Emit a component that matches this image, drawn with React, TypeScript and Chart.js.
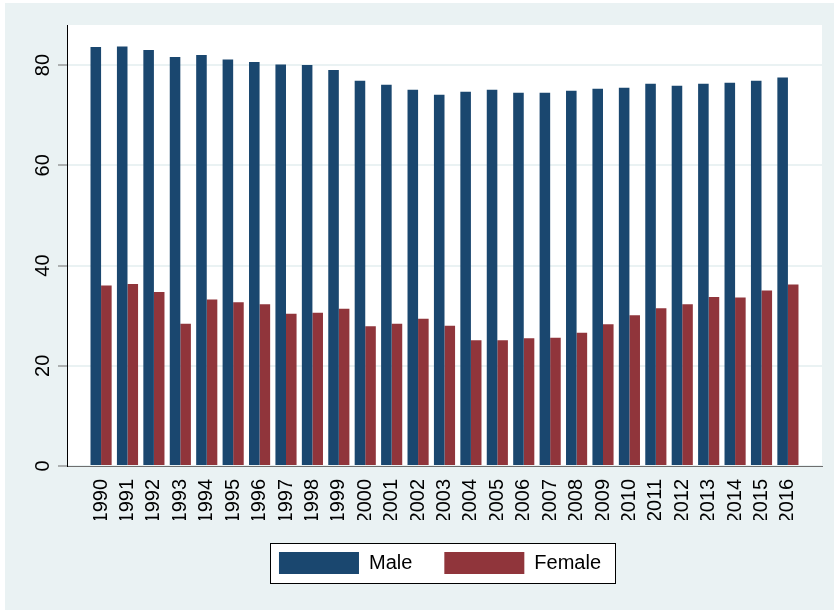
import React, { useEffect, useRef } from 'react';
import { Chart, registerables } from 'chart.js';

Chart.register(...registerables);

const years = ['1990', '1991', '1992', '1993', '1994', '1995', '1996', '1997', '1998', '1999', '2000', '2001', '2002', '2003', '2004', '2005', '2006', '2007', '2008', '2009', '2010', '2011', '2012', '2013', '2014', '2015', '2016'];
const male = [83.6, 83.7, 83.0, 81.6, 82.0, 81.1, 80.6, 80.1, 80.0, 79.0, 76.9, 76.1, 75.1, 74.1, 74.7, 75.1, 74.5, 74.5, 74.9, 75.3, 75.5, 76.3, 75.9, 76.3, 76.5, 76.9, 77.5];
const female = [36.0, 36.3, 34.7, 28.4, 33.2, 32.7, 32.3, 30.4, 30.6, 31.4, 27.9, 28.4, 29.4, 28.0, 25.1, 25.1, 25.5, 25.6, 26.6, 28.3, 30.1, 31.5, 32.3, 33.7, 33.6, 35.0, 36.2];
const yTicks = [0, 20, 40, 60, 80];
const seriesNames = ['Male', 'Female'];

const FONT = '"Liberation Sans", Arial, sans-serif';
const BG = '#EAF2F3';

const stataPlugin = {
  id: 'stataLook',
  beforeDraw(chart: any) {
    const { ctx, chartArea: a, width, height } = chart;
    ctx.save();
    ctx.fillStyle = '#ffffff';
    ctx.fillRect(0, 0, width, height);
    ctx.fillStyle = BG;
    ctx.fillRect(5, 3, width - 5, height - 3);
    ctx.fillStyle = '#ffffff';
    ctx.fillRect(a.left, a.top, a.right - a.left, a.bottom - a.top);
    const hb = chart.legend && chart.legend.legendHitBoxes;
    if (hb && hb.length) {
      const first = hb[0];
      const last = hb[hb.length - 1];
      const x0 = first.left - 9;
      const x1 = last.left + last.width + 14;
      const cy = first.top + first.height / 2;
      ctx.fillStyle = '#ffffff';
      ctx.fillRect(x0, cy - 20, x1 - x0, 40);
      ctx.strokeStyle = '#000000';
      ctx.lineWidth = 1;
      ctx.strokeRect(Math.round(x0) + 0.5, Math.round(cy - 20) + 0.5, Math.round(x1 - x0), 40);
    }
    ctx.restore();
  },
  afterDraw(chart: any) {
    const { ctx } = chart;
    const y = chart.scales.y;
    ctx.save();
    ctx.font = '20px ' + FONT;
    ctx.fillStyle = '#000000';
    ctx.textAlign = 'center';
    ctx.textBaseline = 'middle';
    y.ticks.forEach((t: any) => {
      const py = y.getPixelForValue(t.value);
      ctx.save();
      ctx.translate(43, py);
      ctx.rotate(-Math.PI / 2);
      ctx.fillText(String(t.value), 0, 0);
      ctx.restore();
    });
    ctx.restore();
  },
};

export default function App() {
  const ref = useRef<HTMLCanvasElement | null>(null);

  useEffect(() => {
    if (!ref.current) return;
    Chart.defaults.font.family = FONT;
    const chart = new Chart(ref.current, {
      type: 'bar',
      data: {
        datasets: [
          {
            label: seriesNames[0],
            data: male.map((v, i) => ({ x: i, y: v })),
            backgroundColor: '#1a476f',
            borderWidth: 0,
            categoryPercentage: 0.8,
            barPercentage: 1.0,
          },
          {
            label: seriesNames[1],
            data: female.map((v, i) => ({ x: i, y: v })),
            backgroundColor: '#90353b',
            borderWidth: 0,
            categoryPercentage: 0.8,
            barPercentage: 1.0,
          },
        ],
      },
      options: {
        responsive: false,
        animation: false,
        layout: { padding: { left: 58, top: 25, right: 12, bottom: 26 } },
        plugins: {
          legend: {
            position: 'bottom',
            labels: {
              boxWidth: 80,
              boxHeight: 22,
              padding: 32,
              color: '#000000',
              font: { size: 20, family: FONT },
            },
          },
          tooltip: { enabled: false },
        },
        scales: {
          x: {
            type: 'linear',
            offset: false,
            min: -1.29,
            max: 27.29,
            afterBuildTicks: (s: any) => {
              s.ticks = years.map((_, i) => ({ value: i }));
            },
            afterFit: (s: any) => {
              s.height = 54;
            },
            ticks: {
              autoSkip: false,
              minRotation: 90,
              maxRotation: 90,
              padding: 13,
              color: '#000000',
              font: { size: 20, family: FONT },
              callback: (v: any) => years[v],
            },
            grid: { display: false, drawTicks: false },
            border: { display: true, color: '#6e6e6e', width: 1 },
          },
          y: {
            min: 0,
            max: 88,
            afterBuildTicks: (s: any) => {
              s.ticks = yTicks.map((v) => ({ value: v }));
            },
            ticks: { display: false },
            grid: {
              color: BG,
              lineWidth: 2,
              drawTicks: true,
              tickLength: 9,
              tickColor: '#6e6e6e',
              tickWidth: 1,
            },
            border: { display: true, color: '#000000', width: 1 },
          },
        },
      } as any,
      plugins: [stataPlugin],
    });
    return () => chart.destroy();
  }, []);

  return (
    <div style={{ position: 'fixed', left: 0, top: 0, width: 834, height: 610 }}>
      <canvas ref={ref} width={834} height={610} style={{ width: 834, height: 610, display: 'block' }} />
    </div>
  );
}
